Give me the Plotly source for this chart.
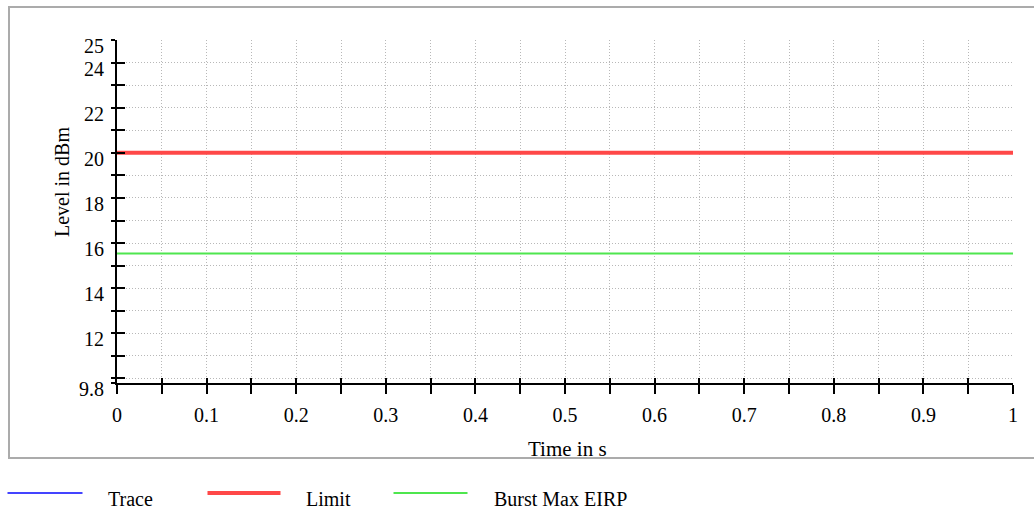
import plotly.graph_objects as go

# ---------------- data ----------------
time_s = [0, 1]
limit_dbm = [20, 20]
burst_max_eirp_dbm = [15.54, 15.54]
trace_time = []
trace_dbm = []

series_names = ["Trace", "Limit", "Burst Max EIRP"]

x_tick_vals = [0, 0.05, 0.1, 0.15, 0.2, 0.25, 0.3, 0.35, 0.4, 0.45, 0.5,
               0.55, 0.6, 0.65, 0.7, 0.75, 0.8, 0.85, 0.9, 0.95, 1]
x_tick_text = ["0", "", "0.1", "", "0.2", "", "0.3", "", "0.4", "", "0.5",
               "", "0.6", "", "0.7", "", "0.8", "", "0.9", "", "1"]
y_tick_vals = [9.8, 10, 11, 12, 13, 14, 15, 16, 17, 18, 19, 20, 21, 22, 23, 24, 25]
y_tick_text = ["9.8", "", "", "12", "", "14", "", "16", "", "18", "", "20", "", "22", "", "24", "25"]
x_range = [0, 1]
y_range = [9.8, 25]

# ---------------- style ----------------
FONT = "Liberation Serif, Times New Roman, serif"
C_TRACE = "#4444ff"
C_LIMIT = "#ff4848"
C_BURST = "#4ee64e"
GRID = "#b8b8b8"

W, H = 1034, 510
L, R, T, B = 117, 21, 40, 127
PW, PH = W - L - R, H - T - B


def xp(px):
    return (px - L) / PW


def yp(py):
    return (H - B - py) / PH


fig = go.Figure()
fig.add_trace(go.Scatter(x=trace_time, y=trace_dbm, mode="lines", name=series_names[0],
                         line=dict(color=C_TRACE, width=2), showlegend=False))
fig.add_trace(go.Scatter(x=time_s, y=limit_dbm, mode="lines", name=series_names[1],
                         line=dict(color=C_LIMIT, width=4), showlegend=False))
fig.add_trace(go.Scatter(x=time_s, y=burst_max_eirp_dbm, mode="lines", name=series_names[2],
                         line=dict(color=C_BURST, width=2), showlegend=False))
# invisible helper trace for overlay axes (inside tick halves)
fig.add_trace(go.Scatter(x=time_s, y=limit_dbm, xaxis="x2", yaxis="y2", mode="lines",
                         line=dict(width=0), opacity=0, showlegend=False, hoverinfo="skip"))

axis_common = dict(showline=True, linecolor="black", linewidth=2, zeroline=False,
                   tickcolor="black", tickwidth=2, tickmode="array",
                   tickfont=dict(family=FONT, size=20, color="black"))

fig.update_layout(
    width=W, height=H,
    margin=dict(l=L, r=R, t=T, b=B),
    paper_bgcolor="white", plot_bgcolor="white",
    font=dict(family=FONT, size=20, color="black"),
    showlegend=False,
    xaxis=dict(range=x_range, tickvals=x_tick_vals, ticktext=x_tick_text,
               ticks="outside", ticklen=9, ticklabelstandoff=4,
               showgrid=True, gridcolor=GRID, gridwidth=1, griddash="1px,2px",
               **axis_common),
    yaxis=dict(range=y_range, tickvals=y_tick_vals, ticktext=y_tick_text,
               ticks="outside", ticklen=4, ticklabelstandoff=3, ticklabelshift=6,
               showgrid=True, gridcolor=GRID, gridwidth=1, griddash="1px,2px",
               **axis_common),
    xaxis2=dict(range=x_range, overlaying="x", anchor="y2", side="bottom",
                tickvals=x_tick_vals, ticks="inside", ticklen=5, showticklabels=False,
                showgrid=False, showline=False, zeroline=False,
                tickcolor="black", tickwidth=2),
    yaxis2=dict(range=y_range, overlaying="y", anchor="x2", side="left",
                tickvals=y_tick_vals, ticks="inside", ticklen=8, showticklabels=False,
                showgrid=False, showline=False, zeroline=False,
                tickcolor="black", tickwidth=2),
)

shapes = [
    # outer frame
    dict(type="rect", xref="paper", yref="paper",
         x0=xp(9), x1=xp(1045), y0=yp(458), y1=yp(7),
         line=dict(color="#ababab", width=2), fillcolor="rgba(0,0,0,0)", layer="below"),
]
legend_items = [
    (series_names[0], C_TRACE, 2, 7.5, 82.5, 106),
    (series_names[1], C_LIMIT, 4, 207.5, 280.5, 304),
    (series_names[2], C_BURST, 2, 393.5, 467.5, 492),
]
annotations = []
for name, col, lw, x0, x1, tx in legend_items:
    shapes.append(dict(type="line", xref="paper", yref="paper",
                       x0=xp(x0), x1=xp(x1), y0=yp(493), y1=yp(493),
                       line=dict(color=col, width=lw)))
    annotations.append(dict(text=name, xref="paper", yref="paper", x=xp(tx), y=yp(498.5),
                            xanchor="left", yanchor="middle", showarrow=False,
                            font=dict(family=FONT, size=20, color="black")))

annotations.append(dict(text="Time in s", xref="paper", yref="paper", x=xp(567), y=yp(449.5),
                        xanchor="center", yanchor="middle", showarrow=False,
                        font=dict(family=FONT, size=21, color="black")))
annotations.append(dict(text="Level in dBm", xref="paper", yref="paper", x=xp(62), y=yp(182),
                        xanchor="center", yanchor="middle", showarrow=False, textangle=-90,
                        font=dict(family=FONT, size=20, color="black")))

fig.update_layout(shapes=shapes, annotations=annotations)

fig.write_html("out.html", config={"displayModeBar": False},
               post_script="document.body.style.margin='0px';document.body.style.overflow='hidden';")
